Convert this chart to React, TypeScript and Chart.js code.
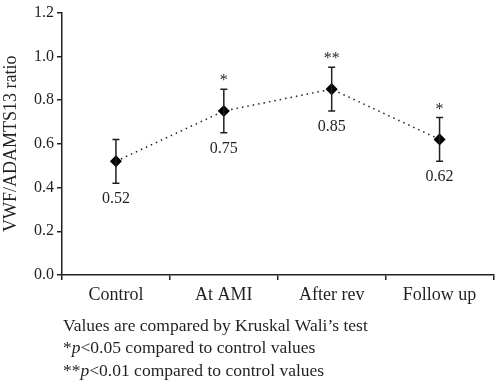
import React, { useEffect, useRef } from "react";
import { Chart, registerables } from "chart.js";

Chart.register(...registerables);

const categories = ["Control", "At AMI", "After rev", "Follow up"];
const means = [0.52, 0.75, 0.85, 0.62];
const errLow = [0.42, 0.65, 0.75, 0.52];
const errHigh = [0.62, 0.85, 0.95, 0.72];
const valueLabels = ["0.52", "0.75", "0.85", "0.62"];
const significance = ["", "*", "**", "*"];
const yTicks = [0, 0.2, 0.4, 0.6, 0.8, 1.0, 1.2];
const footnotes = [
  [{ t: "Values are compared by Kruskal Wali\u2019s test", i: false }],
  [
    { t: "*", i: false },
    { t: "p", i: true },
    { t: "<0.05 compared to control values", i: false },
  ],
  [
    { t: "**", i: false },
    { t: "p", i: true },
    { t: "<0.01 compared to control values", i: false },
  ],
];

const FONT = "'Liberation Serif', 'DejaVu Serif', serif";
const INK = "#231f20";

const annotPlugin = {
  id: "annot",
  afterDatasetsDraw(chart: any) {
    const ctx = chart.ctx;
    const x = chart.scales.x;
    const y = chart.scales.y;
    ctx.save();
    ctx.strokeStyle = INK;
    ctx.fillStyle = INK;
    ctx.lineWidth = 1.5;
    means.forEach((m, i) => {
      const px = x.getPixelForValue(i);
      const yl = y.getPixelForValue(errLow[i]);
      const yh = y.getPixelForValue(errHigh[i]);
      ctx.beginPath();
      ctx.moveTo(px, yl);
      ctx.lineTo(px, yh);
      ctx.moveTo(px - 3.5, yl);
      ctx.lineTo(px + 3.5, yl);
      ctx.moveTo(px - 3.5, yh);
      ctx.lineTo(px + 3.5, yh);
      ctx.stroke();
      ctx.font = `16px ${FONT}`;
      ctx.textAlign = "center";
      ctx.textBaseline = "middle";
      ctx.fillText(valueLabels[i], px, yl + 16);
      if (significance[i]) {
        ctx.font = `16px ${FONT}`;
        ctx.fillText(significance[i], px, yh - 8);
      }
    });
    // footnotes
    ctx.textAlign = "left";
    ctx.textBaseline = "middle";
    const baseY = 326;
    footnotes.forEach((line, li) => {
      let cx = 63;
      const cy = baseY + li * 22.5;
      line.forEach((seg) => {
        ctx.font = `${seg.i ? "italic " : ""}17.5px ${FONT}`;
        ctx.fillText(seg.t, cx, cy);
        cx += ctx.measureText(seg.t).width;
      });
    });
    ctx.restore();
  },
};

export default function App() {
  const ref = useRef<HTMLCanvasElement>(null);
  useEffect(() => {
    document.body.style.margin = "0";
    const chart = new Chart(ref.current!, {
      type: "line",
      data: {
        labels: categories,
        datasets: [
          {
            data: means,
            borderColor: INK,
            borderWidth: 1.5,
            borderDash: [1.5, 4],
            pointStyle: "rectRot",
            pointRadius: 5,
            pointBackgroundColor: "#000",
            pointBorderColor: "#000",
            fill: false,
            tension: 0,
          },
        ],
      },
      options: {
        responsive: false,
        animation: false,
        layout: { padding: { top: 9, right: 1, left: 0, bottom: 0 } },
        plugins: { legend: { display: false }, tooltip: { enabled: false } },
        scales: {
          x: {
            offset: true,
            grid: {
              offset: true,
              drawOnChartArea: false,
              drawTicks: true,
              tickLength: 5,
              color: INK,
              lineWidth: 1.5,
            },
            border: { color: INK, width: 1.5 },
            ticks: { color: INK, font: { family: FONT, size: 18 }, padding: 4 },
            afterFit: (s: any) => {
              s.height = 108;
            },
          },
          y: {
            min: 0,
            max: 1.2,
            afterBuildTicks: (s: any) => {
              s.ticks = yTicks.map((v) => ({ value: v }));
            },
            grid: {
              drawOnChartArea: false,
              drawTicks: true,
              tickLength: 5,
              color: INK,
              lineWidth: 1.5,
            },
            border: { color: INK, width: 1.5 },
            ticks: {
              color: INK,
              font: { family: FONT, size: 16 },
              padding: 3,
              callback: (v: any) => Number(v).toFixed(1),
            },
            title: {
              display: true,
              text: "VWF/ADAMTS13 ratio",
              color: INK,
              font: { family: FONT, size: 18 },
              padding: { top: 0, bottom: 0 },
            },
            afterFit: (s: any) => {
              s.width = 62;
            },
          },
        },
      },
      plugins: [annotPlugin],
    });
    return () => chart.destroy();
  }, []);
  return (
    <div style={{ width: 500, height: 383, position: "relative" }}>
      <canvas ref={ref} width={500} height={383} />
    </div>
  );
}
